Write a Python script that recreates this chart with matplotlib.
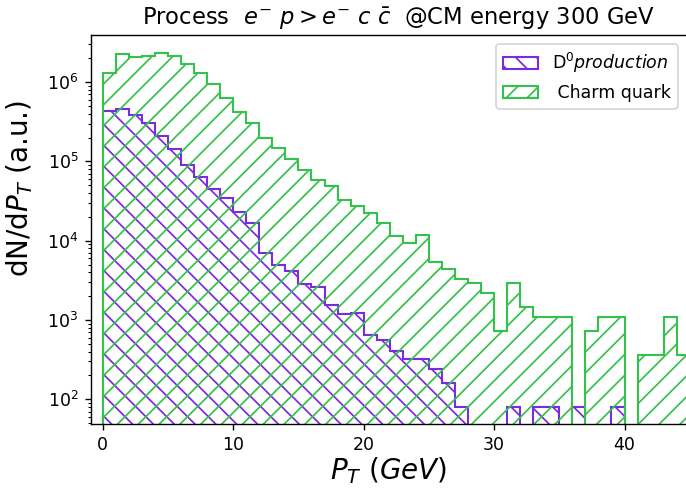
import numpy as np
import matplotlib
matplotlib.use('Agg')
import matplotlib.pyplot as plt

# ---- data ----
pt_edges = list(range(0, 46))  # 1 GeV bins, 0..45 GeV

d0_counts = [4.36e5, 4.58e5, 3.85e5, 3.02e5, 2.09e5, 1.42e5, 9.01e4, 6.27e4,
             4.49e4, 3.45e4, 2.32e4, 1.65e4, 6.93e3, 4.94e3, 4.15e3, 2.84e3,
             2.63e3, 1.55e3, 1.19e3, 1.22e3, 646, 565, 403, 323,
             323, 242, 161, 80.7, 0, 0, 0, 80.7,
             0, 80.7, 80.7, 0, 80.7, 0, 0, 80.7,
             0, 0, 0, 0, 0]

charm_counts = [1.29e6, 2.25e6, 2.07e6, 2.15e6, 2.31e6, 2.15e6, 1.71e6, 1.29e6,
                9.33e5, 6.39e5, 4.17e5, 3.02e5, 2.00e5, 1.46e5, 1.07e5, 7.72e4,
                5.82e4, 4.90e4, 3.26e4, 2.72e4, 2.23e4, 1.67e4, 1.15e4, 9.27e3,
                1.18e4, 5.43e3, 4.34e3, 3.26e3, 2.90e3, 2.17e3, 724, 2.90e3,
                1.45e3, 1.086e3, 1.086e3, 1.086e3, 0, 724, 1.086e3, 1.086e3,
                0, 362, 362, 1.086e3, 362]

d0_label = r'D$^0production$'
charm_label = r' Charm quark'
title_text = r'Process  $e^{-}\ p > e^{-}\ c\ \bar{c}$  @CM energy 300 GeV'

purple = '#7a2be0'
green = '#33c24a'

DPI = 125
W, H = 686, 490
fig = plt.figure(figsize=(W / DPI, H / DPI), dpi=DPI)
L, R, B, T = 90.5, 686.5, 424.0, 35.3
ax = fig.add_axes([L / W, (H - B) / H, (R - L) / W, (B - T) / H])

centers = [e + 0.5 for e in pt_edges[:-1]]
ax.hist(centers, bins=pt_edges, weights=d0_counts, histtype='step',
        hatch='\\\\', color=purple, linewidth=1.2, label=d0_label, log=True)
ax.hist(centers, bins=pt_edges, weights=charm_counts, histtype='step',
        hatch='//', color=green, linewidth=1.2, label=charm_label, log=True)

ax.set_yscale('log')
ax.set_xlim(-0.94, 44.75)
ax.set_ylim(48.8, 3.89e6)
ax.spines['right'].set_visible(False)

ax.set_xticks([0, 10, 20, 30, 40])
ax.tick_params(labelsize=10)

ax.set_title(title_text, fontsize=13, x=0.517)
ax.set_xlabel(r'$P_T\ (GeV)$', fontsize=16, labelpad=0.5)
ax.set_ylabel(r'dN/d$P_T$ (a.u.)', fontsize=16)
ax.yaxis.set_label_coords(-0.093, 0.607)

ax.legend(loc='upper right', fontsize=10)

fig.savefig('out.png', dpi=DPI)
